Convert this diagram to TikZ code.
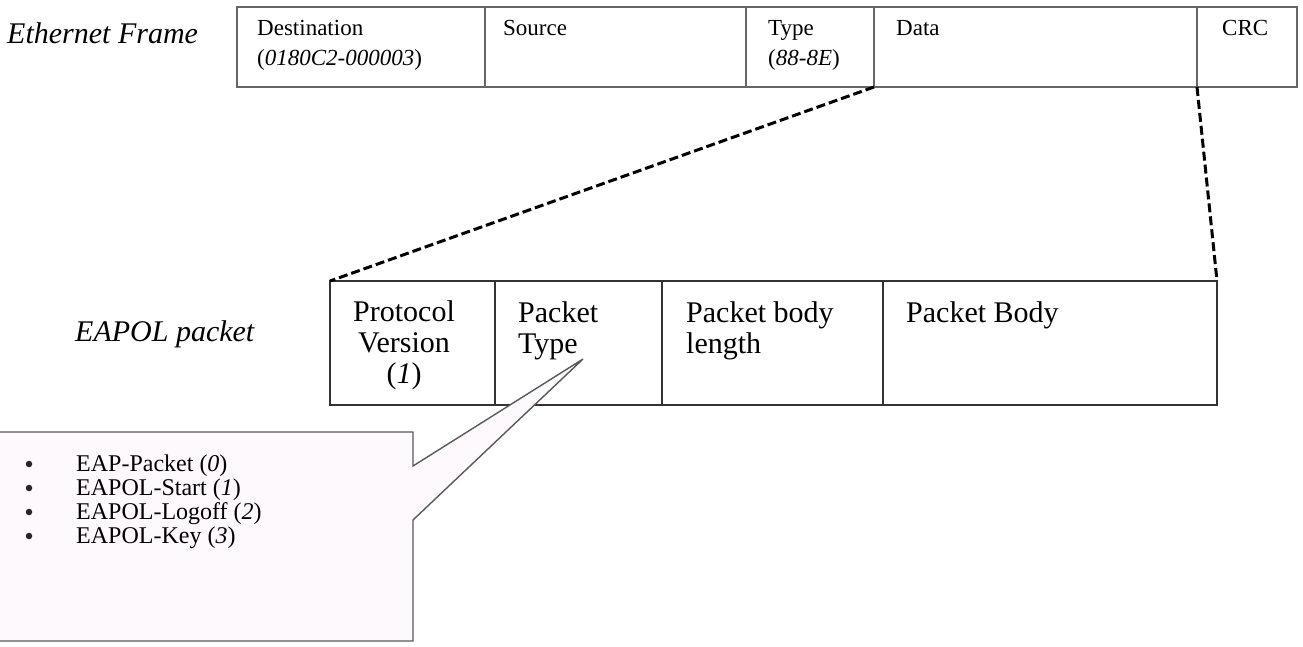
\documentclass[tikz,border=0pt]{standalone}
\usepackage{fontspec}
\setmainfont{Liberation Serif}
\usetikzlibrary{positioning}
\definecolor{calloutpink}{RGB}{253,249,253}

\begin{document}
\begin{tikzpicture}[x=1pt, y=-1pt,
	framecell/.style={draw=black!60, line width=1.4pt, rectangle, inner sep=0, outer sep=0, anchor=north west, minimum height=80},
	packetcell/.style={draw=black!80, line width=1.4pt, rectangle, inner sep=0, outer sep=0, anchor=north west, minimum height=124},
	frametext/.style={inner sep=0, anchor=base west, align=left, font=\fontsize{23}{30}\selectfont},
	packettext/.style={inner sep=0, anchor=base west, align=left, font=\fontsize{30}{31}\selectfont},
	caption/.style={inner sep=0, anchor=base west, font=\fontsize{30}{36}\selectfont\itshape},
	listtext/.style={inner sep=0, anchor=base west, font=\fontsize{24}{24}\selectfont},
	listdot/.style={circle, fill=black!85, inner sep=0, minimum size=6.5pt},
	zoomline/.style={line width=3pt, dash pattern=on 9pt off 4pt},
	calloutbox/.style={draw=black!65, line width=1.4pt, fill=calloutpink}]
	\useasboundingbox (0,0) rectangle (1303,646);

	% Ethernet frame
	\node[caption] (EthCaption) at (7,43) {Ethernet Frame};
	\node[framecell, minimum width=248] (Dest) at (237,7) {};
	\node[framecell, minimum width=261] (Source) at (Dest.north east) {};
	\node[framecell, minimum width=128] (Type) at (Source.north east) {};
	\node[framecell, minimum width=323] (Data) at (Type.north east) {};
	\node[framecell, minimum width=100] (CRC) at (Data.north east) {};
	% base of a two-line node is its last line
	\node[frametext] (DestLbl) at (257,65) {Destination\\(\textit{0180C2-000003})};
	\node[frametext] (SourceLbl) at (503,35) {Source};
	\node[frametext] (TypeLbl) at (768,65) {Type\\(\textit{88-8E})};
	\node[frametext] (DataLbl) at (896,35) {Data};
	\node[frametext] (CRCLbl) at (1222,35) {CRC};

	% EAPOL packet
	\node[caption] (EapolCaption) at (75,341) {EAPOL packet};
	\node[packetcell, minimum width=165] (Version) at (330,281) {};
	\node[packetcell, minimum width=167] (PType) at (Version.north east) {};
	\node[packetcell, minimum width=221] (BodyLen) at (PType.north east) {};
	\node[packetcell, minimum width=334] (Body) at (BodyLen.north east) {};
	\node[packettext, align=center, anchor=base] (VersionLbl) at (404,383) {Protocol\\Version\\(\textit{1})};
	\node[packettext] (PTypeLbl) at (518,353) {Packet\\Type};
	\node[packettext] (BodyLenLbl) at (686,353) {Packet body\\length};
	\node[packettext] (BodyLbl) at (906,322) {Packet Body};

	\draw[zoomline] (Data.south west) -- (Version.north west);
	\draw[zoomline] (CRC.south west) -- (Body.north east);

	% packet type values
	\coordinate (Tip) at (583,359);
	\draw[calloutbox] (-2,432) -- (413,432) -- (413,466) -- (Tip) -- (413,520) -- (413,641) -- (-2,641);
	\node[listdot] (Dot0) at (29,464) {};
	\node[listdot] (Dot1) at (29,488) {};
	\node[listdot] (Dot2) at (29,512) {};
	\node[listdot] (Dot3) at (29,536) {};
	\node[listtext] (EapPacket) at (76,471) {EAP-Packet (\textit{0})};
	\node[listtext] (EapolStart) at (76,495) {EAPOL-Start (\textit{1})};
	\node[listtext] (EapolLogoff) at (76,519) {EAPOL-Logoff (\textit{2})};
	\node[listtext] (EapolKey) at (76,543) {EAPOL-Key (\textit{3})};
\end{tikzpicture}
\end{document}
